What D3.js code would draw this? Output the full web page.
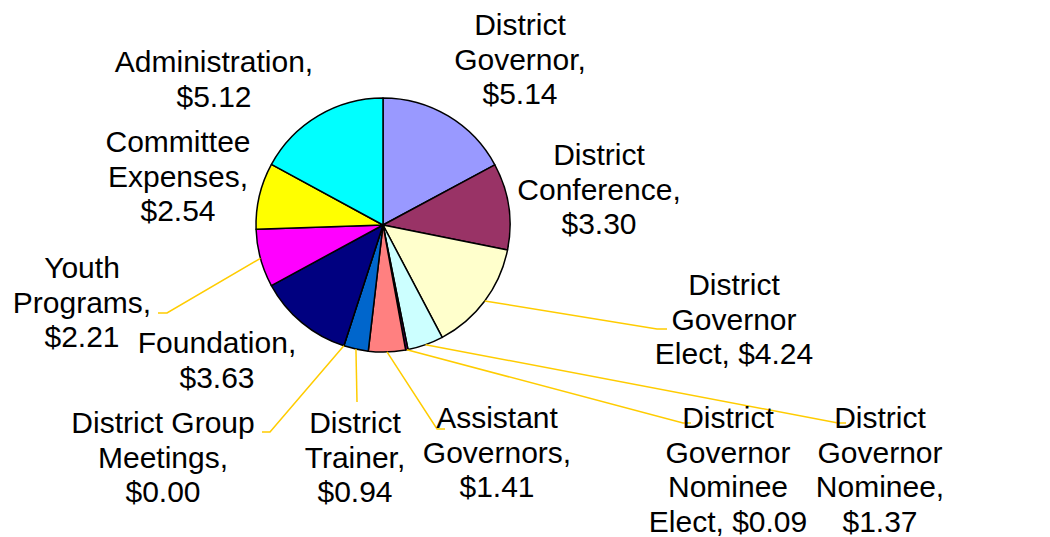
<!DOCTYPE html>
<html>
<head>
<meta charset="utf-8">
<script src="https://cdn.jsdelivr.net/npm/d3@7"></script>
<style>
  body { margin: 0; background: #fff; }
  text { font-family: "Liberation Sans", Arial, sans-serif; font-size: 30px; fill: #000; }
</style>
</head>
<body>
<div id="pie-chart"></div>
<script>
// data
var categories = ["District Governor", "District Conference", "District Governor Elect",
    "District Governor Nominee", "District Governor Nominee Elect", "Assistant Governors",
    "District Trainer", "District Group Meetings", "Foundation", "Youth Programs",
    "Committee Expenses", "Administration"];
var values = [5.14, 3.30, 4.24, 1.37, 0.09, 1.41, 0.94, 0.00, 3.63, 2.21, 2.54, 5.12];
var colors = ["#9999FF", "#993366", "#FFFFCC", "#CCFFFF", "#660066", "#FF8080",
    "#0066CC", "#CCCCFF", "#000080", "#FF00FF", "#FFFF00", "#00FFFF"];

// label layout: words per line, centre x, first baseline, leader end (x, y), horizontal tick end
var labelLayout = [
    {words: [1, 1, 1], x: 520, y: 35},
    {words: [1, 1, 1], x: 599, y: 165},
    {words: [1, 1, 2], x: 734, y: 295, lx: 657, ly: 329, hx: 667},
    {words: [1, 1, 1, 1], x: 880, y: 428, lx: 838, ly: 423, hx: 846},
    {words: [1, 1, 1, 2], x: 728, y: 428, lx: 683, ly: 423, hx: 691},
    {words: [1, 1, 1], x: 497, y: 428, lx: 437, ly: 429, hx: 445},
    {words: [1, 1, 1], x: 355, y: 433, lx: 357, ly: 402, hx: 357},
    {words: [2, 1, 1], x: 163, y: 433, lx: 270, ly: 432, hx: 262},
    {words: [1, 1], x: 217, y: 353},
    {words: [1, 1, 1], x: 82, y: 278, lx: 167, ly: 313, hx: 158},
    {words: [1, 1, 1], x: 178, y: 152},
    {words: [1, 1], x: 214, y: 72}
];

var width = 1050, height = 537,
    cx = 383, cy = 225, radius = 127, lineHeight = 34.5;

var svg = d3.select("#pie-chart")
    .append("svg")
    .attr("width", width)
    .attr("height", height);

var pie = d3.pie().sort(null).value(function (d) { return d; });
var arcs = pie(values);

var arc = d3.arc().innerRadius(0).outerRadius(radius);
var edge = d3.arc().innerRadius(radius).outerRadius(radius);

var g = svg.append("g")
    .attr("transform", "translate(" + cx + "," + cy + ")");

// slices
g.selectAll("path.slice")
    .data(arcs)
    .enter()
    .append("path")
    .attr("class", "slice")
    .attr("d", arc)
    .style("fill", function (d, i) { return colors[i]; })
    .style("stroke", "#000")
    .style("stroke-width", 1.5)
    .style("stroke-linejoin", "round");

// leader lines
arcs.forEach(function (d, i) {
    var L = labelLayout[i];
    if (L.lx === undefined) return;
    var p = edge.centroid(d);
    svg.append("polyline")
        .attr("points", [[cx + p[0], cy + p[1]], [L.lx, L.ly], [L.hx, L.ly]].join(" "))
        .style("fill", "none")
        .style("stroke", "#FFCC00")
        .style("stroke-width", 1.5);
});

// labels
categories.forEach(function (name, i) {
    var L = labelLayout[i];
    var words = (name + ", $" + values[i].toFixed(2)).split(" ");
    var lines = [], k = 0;
    L.words.forEach(function (n) {
        lines.push(words.slice(k, k + n).join(" "));
        k += n;
    });
    var t = svg.append("text")
        .attr("text-anchor", "middle");
    lines.forEach(function (s, j) {
        t.append("tspan")
            .attr("x", L.x)
            .attr("y", L.y + j * lineHeight)
            .text(s);
    });
});
</script>
</body>
</html>
